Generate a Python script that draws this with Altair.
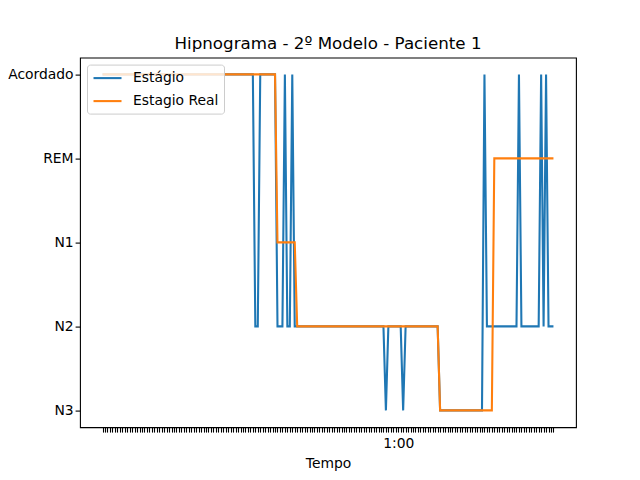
import altair as alt
import pandas as pd

# Sleep stages (top to bottom on the y axis)
STAGES = ["Acordado", "REM", "N1", "N2", "N3"]
SERIES = ["Estágio", "Estagio Real"]
COLORS = ["#1f77b4", "#ff7f0e"]

# Epoch-by-epoch stages, as (stage, number of epochs) runs
ESTAGIO_RUNS = [
    ("Acordado", 62), ("N2", 2), ("Acordado", 7), ("N2", 3), ("Acordado", 1),
    ("N2", 2), ("Acordado", 1), ("N2", 37), ("N3", 1), ("N2", 6), ("N3", 1),
    ("N2", 14), ("N3", 18), ("Acordado", 1), ("N2", 13), ("Acordado", 1),
    ("N2", 8), ("Acordado", 1), ("N2", 1), ("Acordado", 1), ("N2", 3),
]
REAL_RUNS = [
    ("Acordado", 71), ("N1", 8), ("N2", 58), ("N3", 22), ("REM", 25),
]

# x tick label
TICK_LABEL_EPOCH = 120
TICK_LABEL_TEXT = "1:00"


def expand(runs):
    out = []
    for stage, count in runs:
        out.extend([stage] * count)
    return out


seqs = [expand(ESTAGIO_RUNS), expand(REAL_RUNS)]
rows = []
for name, seq in zip(SERIES, seqs):
    for i, s in enumerate(seq):
        rows.append({"t": i, "estagio": s, "serie": name})
df = pd.DataFrame(rows)

n = len(seqs[0])
margin = 0.05 * (n - 1)
FONT = "DejaVu Sans"

chart = alt.Chart(df).mark_line(strokeWidth=2.08).encode(
    x=alt.X(
        "t:Q",
        scale=alt.Scale(domain=[-margin, n - 1 + margin], nice=False, zero=False),
        axis=alt.Axis(
            values=list(range(n)),
            labelExpr=f"datum.value == {TICK_LABEL_EPOCH} ? '{TICK_LABEL_TEXT}' : ''",
            title="Tempo",
            grid=False,
            labelOverlap=False,
            labelFlush=False,
            labelPadding=4.9,
            titlePadding=6,
        ),
    ),
    y=alt.Y(
        "estagio:O",
        sort=STAGES,
        scale=alt.Scale(padding=0.2),
        axis=alt.Axis(title=None, grid=False, labelPadding=2),
    ),
    order=alt.Order("t:Q"),
    color=alt.Color(
        "serie:N",
        scale=alt.Scale(domain=SERIES, range=COLORS),
        legend=alt.Legend(
            title=None,
            orient="none",
            legendX=7,
            legendY=7,
            symbolType="M-2,0H2",
            symbolSize=196,
            symbolStrokeWidth=2.08,
            symbolOffset=7,
            labelOffset=17,
            labelFontSize=13.9,
            labelFont=FONT,
            labelColor="black",
            padding=5,
            rowPadding=7,
            fillColor="rgba(255,255,255,0.8)",
            strokeColor="#cccccc",
            cornerRadius=3,
        ),
    ),
).properties(
    width=496,
    height=369.6,
    title=alt.TitleParams(
        "Hipnograma - 2º Modelo - Paciente 1",
        fontSize=16.7,
        font=FONT,
        fontWeight="normal",
        color="black",
        offset=5,
        anchor="middle",
    ),
    padding={"left": 72, "top": 49.6, "right": 56, "bottom": 52},
    autosize="none",
).configure_view(
    stroke="black", strokeWidth=1.1
).configure_axis(
    domain=False,
    tickColor="black",
    tickWidth=1.1,
    tickSize=4.9,
    labelFont=FONT,
    labelFontSize=13.9,
    labelColor="black",
    titleFont=FONT,
    titleFontSize=13.9,
    titleFontWeight="normal",
    titleColor="black",
)

chart.save("out.html", embed_options={"renderer": "svg", "actions": False})
